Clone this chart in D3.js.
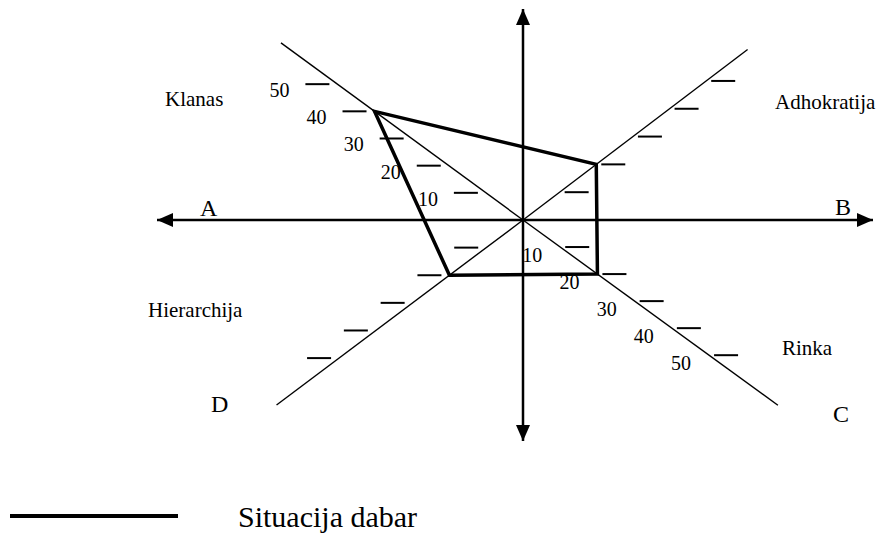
<!DOCTYPE html>
<html>
<head>
<meta charset="utf-8">
<script src="https://cdn.jsdelivr.net/npm/d3@7"></script>
<style>
  html, body { margin: 0; padding: 0; background: #fff; }
  svg { display: block; }
</style>
</head>
<body>
<svg id="chart" width="879" height="535"></svg>
<script>
// ---- data ----
const categories = ["Klanas", "Adhokratija", "Rinka", "Hierarchija"];
const values = [40, 20, 20, 20];            // Situacija dabar
const tickValues = [10, 20, 30, 40, 50];
const tickLabelValues = [10, 20, 30, 40, 50];
const cornerLetters = ["A", "B", "C", "D"];
const seriesName = "Situacija dabar";

// ---- layout ----
const FONT = "'Liberation Serif', Tinos, 'Times New Roman', Times, 'DejaVu Serif', serif";
const cx = 523, cy = 220;
const svg = d3.select("#chart");

const r = d3.scaleLinear().domain([0, 50]).range([0, 230]);

// per-axis direction (degrees, screen coords with y down), extent in value units
const axes = [
  { name: categories[0], angle: 180 + 36.2, extent: 65.2, side: "left",  labels: true },
  { name: categories[1], angle: 360 - 37.2, extent: 61.3, side: "right", labels: false },
  { name: categories[2], angle: 36.0,       extent: 68.5, side: "right", labels: true },
  { name: categories[3], angle: 180 - 36.9, extent: 67.0, side: "left",  labels: false }
];
function P(ax, v) {
  const a = ax.angle * Math.PI / 180;
  return [cx + r(v) * Math.cos(a), cy + r(v) * Math.sin(a)];
}

// arrow marker
const defs = svg.append("defs");
defs.append("marker")
  .attr("id", "arrow")
  .attr("viewBox", "0 0 16 14")
  .attr("refX", 16).attr("refY", 7)
  .attr("markerWidth", 16).attr("markerHeight", 14)
  .attr("markerUnits", "userSpaceOnUse")
  .attr("orient", "auto-start-reverse")
  .append("path").attr("d", "M0,0 L16,7 L0,14 Z").attr("fill", "#000");

// main axes
svg.append("line")
  .attr("x1", 157).attr("y1", cy).attr("x2", 873).attr("y2", cy)
  .attr("stroke", "#000").attr("stroke-width", 2.5)
  .attr("marker-start", "url(#arrow)").attr("marker-end", "url(#arrow)");
svg.append("line")
  .attr("x1", cx).attr("y1", 9).attr("x2", cx).attr("y2", 441)
  .attr("stroke", "#000").attr("stroke-width", 2.5)
  .attr("marker-start", "url(#arrow)").attr("marker-end", "url(#arrow)");

// diagonal axes
axes.forEach(ax => {
  const e = P(ax, ax.extent);
  svg.append("line")
    .attr("x1", cx).attr("y1", cy).attr("x2", e[0]).attr("y2", e[1])
    .attr("stroke", "#000").attr("stroke-width", 1.4);
});

// ticks
const tickLen = 24;
axes.forEach(ax => {
  const g = svg.append("g");
  g.selectAll("line").data(tickValues).join("line")
    .attr("x1", d => ax.side === "left" ? P(ax, d)[0] - 8 - tickLen : P(ax, d)[0] + 5)
    .attr("x2", d => ax.side === "left" ? P(ax, d)[0] - 8 : P(ax, d)[0] + 5 + tickLen)
    .attr("y1", d => P(ax, d)[1])
    .attr("y2", d => P(ax, d)[1])
    .attr("stroke", "#000").attr("stroke-width", 2);
  if (ax.labels) {
    g.selectAll("text").data(tickLabelValues).join("text")
      .attr("x", d => ax.side === "left" ? P(ax, d)[0] - 8 - tickLen - 26 : P(ax, d)[0] - 28)
      .attr("y", d => ax.side === "left" ? P(ax, d)[1] + 13 : P(ax, d)[1] + 15)
      .attr("text-anchor", "middle")
      .attr("font-family", FONT)
      .attr("font-size", 20)
      .text(d => d);
  }
});

// polygon
const poly = axes.map((ax, i) => P(ax, values[i]));
svg.append("path")
  .attr("d", d3.line()(poly) + "Z")
  .attr("fill", "none").attr("stroke", "#000").attr("stroke-width", 3.5)
  .attr("stroke-linejoin", "miter");

// category labels
const catPos = [
  { x: 165, y: 106 },
  { x: 775, y: 109 },
  { x: 782, y: 355 },
  { x: 148, y: 317 }
];
svg.selectAll("text.cat").data(categories).join("text")
  .attr("class", "cat")
  .attr("x", (d, i) => catPos[i].x).attr("y", (d, i) => catPos[i].y)
  .attr("font-family", FONT)
  .attr("font-size", 21)
  .text(d => d);

// corner letters
const letterPos = [
  { x: 200, y: 216 }, { x: 835, y: 215 }, { x: 833, y: 422 }, { x: 211, y: 412 }
];
svg.selectAll("text.letter").data(cornerLetters).join("text")
  .attr("class", "letter")
  .attr("x", (d, i) => letterPos[i].x).attr("y", (d, i) => letterPos[i].y)
  .attr("font-family", FONT)
  .attr("font-size", 24)
  .text(d => d);

// legend
svg.append("line")
  .attr("x1", 10).attr("x2", 178).attr("y1", 516).attr("y2", 516)
  .attr("stroke", "#000").attr("stroke-width", 4);
svg.append("text")
  .attr("x", 238).attr("y", 527)
  .attr("font-family", FONT)
  .attr("font-size", 30)
  .text(seriesName);
</script>
</body>
</html>
